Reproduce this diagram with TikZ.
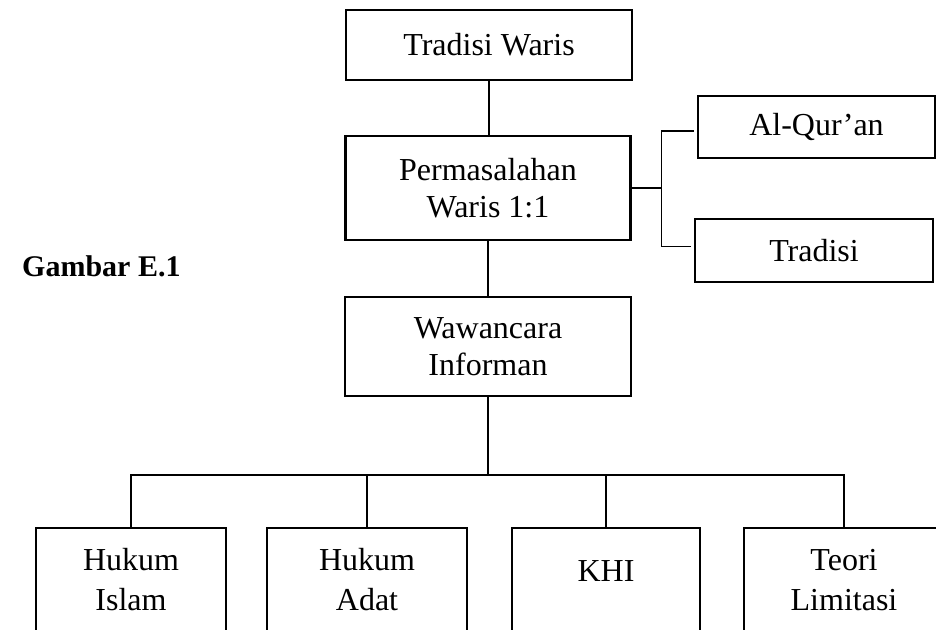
\documentclass[tikz,border=0pt]{standalone}
\usepackage{fontspec}
\setmainfont{Liberation Serif}
\usetikzlibrary{calc}
\begin{document}
\begin{tikzpicture}[x=1pt,y=-1pt,
  box/.style={draw,line width=2.3pt,inner sep=0pt,align=center,
    font=\fontsize{32}{37}\selectfont},
  lowbox/.style={box,font=\fontsize{32}{40}\selectfont,minimum height=104pt},
  conn/.style={line width=1.4pt}]
\path[use as bounding box] (0,0) rectangle (936,629);
\clip (0,0) rectangle (936,629);
\node[box,minimum width=286pt,minimum height=70pt] (tw) at (489,45) {Tradisi Waris};
\node[box,minimum width=285pt,minimum height=104pt] (pm) at (488,188) {Permasalahan\\Waris 1:1};
\node[box,minimum width=286pt,minimum height=99pt] (wi) at (488,346.5) {Wawancara\\Informan};
\node[box,minimum width=237pt,minimum height=62pt] (aq) at (816.5,127) {Al-Qur'an};
\node[box,minimum width=238pt,minimum height=63pt] (tr) at (814,250.5) {Tradisi};
\node[font=\fontsize{30}{36}\selectfont\bfseries,anchor=west,inner sep=0pt] (gb) at (22,266) {Gambar E.1};
\node[lowbox,minimum width=190pt] (b1) at (131,580) {Hukum\\Islam};
\node[lowbox,minimum width=200pt] (b2) at (367,580) {Hukum\\Adat};
\node[lowbox,minimum width=188pt] (b3) at (606,580) {\raisebox{9pt}[\height][\depth]{KHI}};
\node[lowbox,minimum width=200pt] (b4) at (844,580) {Teori\\Limitasi};
% vertical trunk
\draw[conn] (tw.south) -- (tw.south |- pm.north);
\draw[conn] (wi.north) -- (wi.north |- pm.south);
% right branch
\draw[conn] (pm.east) -- ++(30,0) coordinate (j);
\draw[conn] ($(aq.west)+(-3,4)$) -| (j) |- ($(tr.west)+(-3,-4)$);
% bottom bus
\draw[conn] (wi.south) -- ++(0,78) coordinate (bus);
\draw[conn] (b1.north) -- (b1.north |- bus) -- (b4.north |- bus) -- (b4.north);
\draw[conn] (b2.north) -- (b2.north |- bus);
\draw[conn] (b3.north) -- (b3.north |- bus);
\end{tikzpicture}
\end{document}
